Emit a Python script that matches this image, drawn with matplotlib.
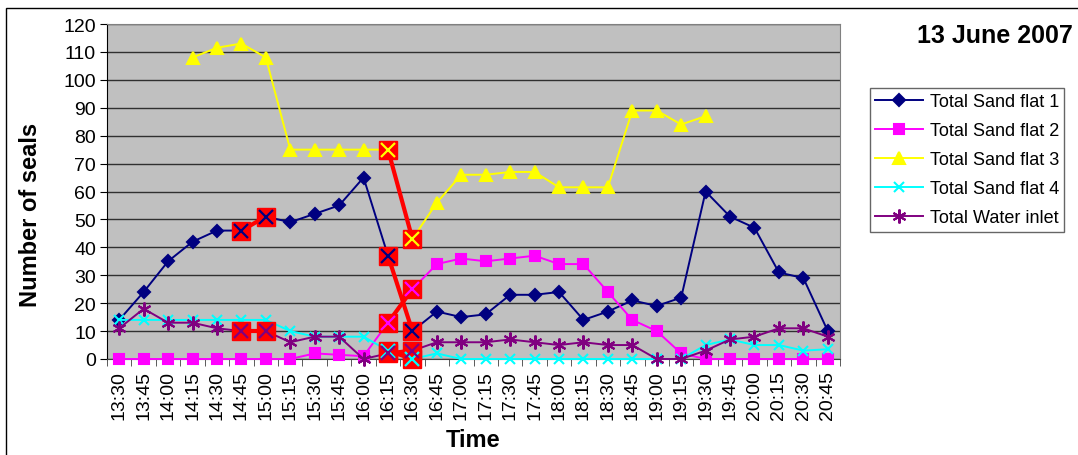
import numpy as np
import matplotlib.pyplot as plt
from matplotlib.patches import Rectangle

# Horas de conteo
horas = ["13:30", "13:45", "14:00", "14:15", "14:30", "14:45", "15:00", "15:15",
         "15:30", "15:45", "16:00", "16:15", "16:30", "16:45", "17:00", "17:15",
         "17:30", "17:45", "18:00", "18:15", "18:30", "18:45", "19:00", "19:15",
         "19:30", "19:45", "20:00", "20:15", "20:30", "20:45"]

nan = np.nan
sand_flat_1 = [14, 24, 35, 42, 46, 46, 51, 49, 52, 55, 65, 37, 10, 17, 15, 16,
               23, 23, 24, 14, 17, 21, 19, 22, 60, 51, 47, 31, 29, 10]
sand_flat_2 = [0, 0, 0, 0, 0, 0, 0, 0, 2, 1.5, 1, 13, 25, 34, 36, 35,
               36, 37, 34, 34, 24, 14, 10, 2, 0, 0, 0, 0, 0, 0]
sand_flat_3 = [nan, nan, nan, 108, 111.5, 113, 108, 75, 75, 75, 75, 75, 43, 56, 66, 66,
               67, 67, 61.5, 61.5, 61.5, 89, 89, 84, 87, nan, nan, nan, nan, nan]
sand_flat_4 = [14, 14, 14, 14, 14, 14, 14, 10, 8, 8, 8, 3, 0, 2, 0, 0,
               0, 0, 0, 0, 0, 0, 0, 0, 5, 7, 5, 5, 3, 3.5]
water_inlet = [11, 18, 13, 13, 11, 10, 10, 6, 8, 8, 0, 2, 3, 6, 6, 6,
               7, 6, 5, 6, 5, 5, 0, 0, 3, 7, 8, 11, 11, 8]

series = [
    ("Total Sand flat 1", sand_flat_1, "#000080", "D", 6.5),
    ("Total Sand flat 2", sand_flat_2, "#FF00FF", "s", 6.5),
    ("Total Sand flat 3", sand_flat_3, "#FFFF00", "^", 8),
    ("Total Sand flat 4", sand_flat_4, "#00FFFF", "x", 7.5),
    ("Total Water inlet", water_inlet, "#800080", (6, 2, 0), 10),
]

# Tramos resaltados en rojo: (indice de serie, punto inicial, punto final)
resaltados = [(0, 5, 6), (4, 5, 6), (0, 11, 12), (1, 11, 12), (2, 11, 12),
              (3, 11, 12), (4, 11, 12)]

x = np.arange(len(horas))
fuente = "Liberation Sans"

fig = plt.figure(figsize=(10.78, 4.56), dpi=100)
ax = fig.add_axes([107 / 1078, (456 - 360) / 456, (840 - 107) / 1078, (360 - 25) / 456])
ax.set_facecolor("#C0C0C0")

for nombre, valores, color, marcador, tam in series:
    ax.plot(x, valores, color=color, marker=marcador, markersize=tam, lw=1.4,
            markeredgewidth=1.5, label=nombre, clip_on=False, zorder=3)

# Cuadros y lineas rojas encima de los puntos seleccionados
for s, i0, i1 in resaltados:
    nombre, valores, color, marcador, tam = series[s]
    xs = [x[i0], x[i1]]
    ys = [valores[i0], valores[i1]]
    ax.plot(xs, ys, color="red", lw=3, zorder=4, clip_on=False)
    ax.plot(xs, ys, ls="none", marker="s", markersize=13, color="red", zorder=5, clip_on=False)
    ax.plot(xs, ys, ls="none", marker="x", markersize=10, markeredgewidth=1.6,
            color=color, zorder=6, clip_on=False)

ax.set_xlim(-0.5, len(horas) - 0.5)
ax.set_ylim(0, 120)
ax.set_yticks(range(0, 121, 10))
ax.yaxis.grid(True, color="#303030", lw=1)
ax.set_axisbelow(True)
ax.set_xticks(x)
ax.set_xticklabels(horas, rotation=90, fontsize=14, family=fuente)
ax.set_xticks(np.arange(-0.5, len(horas), 1), minor=True)
ax.tick_params(axis="x", which="major", length=0, pad=8)
ax.tick_params(axis="x", which="minor", length=5, color="#404040")
ax.tick_params(axis="y", length=5, labelsize=14, pad=3)
for lbl in ax.get_yticklabels():
    lbl.set_family(fuente)

for lado in ["top", "right"]:
    ax.spines[lado].set_color("#808080")
ax.spines["bottom"].set_color("#404040")
ax.spines["left"].set_color("black")

ax.set_xlabel("Time", fontsize=17, fontweight="bold", family=fuente)
ax.xaxis.set_label_coords(0.5, -(441 - 360) / 335, transform=ax.transAxes)
ax.xaxis.label.set_va("center")
ax.set_ylabel("Number of seals", fontsize=17, fontweight="bold", family=fuente)
ax.yaxis.set_label_coords((31 - 107) / 733, (360 - 215) / 335)
ax.yaxis.label.set_va("center")

fig.text(0.995, 0.92, "13 June 2007", fontsize=18, fontweight="bold",
         family=fuente, ha="right", va="center")

leg = fig.legend(loc="upper left", bbox_to_anchor=(861 / 1078, 1 - 80 / 456),
                 frameon=True, fancybox=False, handlelength=2.65, handletextpad=0.35,
                 borderpad=0.3, labelspacing=0.66, edgecolor="#404040",
                 prop={"family": fuente, "size": 13})
leg.get_frame().set_linewidth(1)

# Marco exterior del grafico
fig.patches.append(Rectangle((6 / 1078, -0.1), 1.2, 1 - 9 / 456 + 0.1, transform=fig.transFigure,
                             fill=False, edgecolor="black", lw=1))

fig.savefig("out.png", dpi=100)
